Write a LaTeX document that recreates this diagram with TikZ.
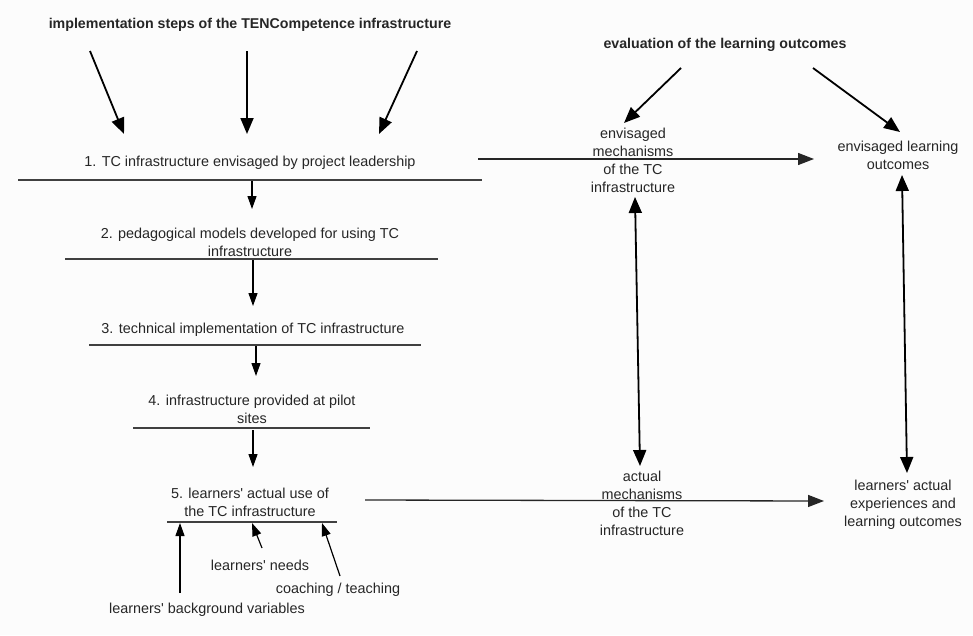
\documentclass[tikz,border=0pt]{standalone}
\usepackage{fontspec}
\setmainfont{Liberation Sans}[Ligatures=TeXOff]
\usetikzlibrary{arrows.meta}
\begin{document}
\begin{tikzpicture}[x=1pt,y=-1pt,
  txt/.style={inner sep=0pt, align=center, text=black!85, font=\fontsize{14.4}{18}\selectfont},
  ttl/.style={inner sep=0pt, align=center, text=black!85, font=\bfseries\fontsize{14.2}{18}\selectfont},
  bar/.style={draw=black!75, line width=1.3pt},
  big/.style={draw=black, line width=1.8pt, -{Triangle[length=16pt,width=13pt]}},
  bigboth/.style={draw=black, line width=1.8pt, {Triangle[length=16pt,width=13pt]}-{Triangle[length=16pt,width=13pt]}},
  small/.style={draw=black, line width=1.2pt, -{Triangle[length=13pt,width=9pt]}},
  horiz/.style={draw=black!85, line width=1.3pt, -{Triangle[length=16pt,width=12pt]}}
]
\fill[white!99!black] (0,0) rectangle (973,635);
\useasboundingbox (0,0) rectangle (973,635);

% titles
\node[ttl] (t1) at (250,25) {implementation steps of the TENCompetence infrastructure};
\node[ttl] (t2) at (725,45) {evaluation of the learning outcomes};

% steps
\node[txt] (s1) at (250,163) {1. TC infrastructure envisaged by project leadership};
\node[txt] (s2) at (250,242) {2. pedagogical models developed for using TC\\infrastructure};
\node[txt] (s3) at (253,330) {3. technical implementation of TC infrastructure};
\node[txt] (s4) at (252,409) {4. infrastructure provided at pilot\\sites};
\node[txt] (s5) at (250,502) {5. learners' actual use of\\the TC infrastructure};

% bars
\coordinate (b1l) at (18,180);  \coordinate (b1r) at (482,180);
\coordinate (b2l) at (65,259);  \coordinate (b2r) at (438,259);
\coordinate (b3l) at (89,345);  \coordinate (b3r) at (421,345);
\coordinate (b4l) at (133,428); \coordinate (b4r) at (370,428);
\coordinate (b5l) at (167,522); \coordinate (b5r) at (337,522);
\draw[bar] (b1l) -- (b1r);
\draw[bar] (b2l) -- (b2r);
\draw[bar] (b3l) -- (b3r);
\draw[bar] (b4l) -- (b4r);
\draw[bar] (b5l) -- (b5r);

% arrows from title 1
\coordinate (a1s) at (90,51);  \coordinate (a1e) at (124,134);
\coordinate (a2s) at (247,51); \coordinate (a2e) at (247,134);
\coordinate (a3s) at (417,51); \coordinate (a3e) at (379,134);
\draw[big] (a1s) -- (a1e);
\draw[big] (a2s) -- (a2e);
\draw[big] (a3s) -- (a3e);

% step arrows
\coordinate (d1s) at (252,181); \coordinate (d1e) at (252,209);
\coordinate (d2s) at (253,260); \coordinate (d2e) at (253,306);
\coordinate (d3s) at (256,346); \coordinate (d3e) at (256,376);
\coordinate (d4s) at (253,430); \coordinate (d4e) at (253,467);
\draw[small] (d1s) -- (d1e);
\draw[small] (d2s) -- (d2e);
\draw[small] (d3s) -- (d3e);
\draw[small] (d4s) -- (d4e);

% influences on step 5
\node[txt] (needs) at (260,565) {learners' needs};
\node[txt] (coach) at (338,590) {coaching / teaching};
\node[txt] (back) at (207,610) {learners' background variables};
\coordinate (i1s) at (180,593); \coordinate (i1e) at (180,523);
\coordinate (i2s) at (262,548); \coordinate (i2e) at (252,523);
\coordinate (i3s) at (340,576); \coordinate (i3e) at (322,523);
\draw[small] (i1s) -- (i1e);
\draw[small] (i2s) -- (i2e);
\draw[small] (i3s) -- (i3e);

% right side nodes
\node[txt] (em) at (633,160) {envisaged\\mechanisms\\of the TC\\infrastructure};
\node[txt] (elo) at (898,155) {envisaged learning\\outcomes};
\node[txt] (am) at (642,503) {actual\\mechanisms\\of the TC\\infrastructure};
\node[txt] (alo) at (903,505) {learners' actual\\experiences and\\learning outcomes};

% horizontal arrows
\coordinate (h1s) at (478,159); \coordinate (h1e) at (814,159);
\coordinate (h2s) at (365,500); \coordinate (h2e) at (824,501);
\draw[horiz] (h1s) -- (h1e);
\draw[horiz] (h2s) -- (h2e);

% arrows from title 2
\coordinate (e1s) at (681,68); \coordinate (e1e) at (624,123);
\coordinate (e2s) at (813,68); \coordinate (e2e) at (900,132);
\draw[big] (e1s) -- (e1e);
\draw[big] (e2s) -- (e2e);

% double arrows
\coordinate (v1t) at (635,197); \coordinate (v1b) at (640,466);
\coordinate (v2t) at (902,175); \coordinate (v2b) at (907,473);
\draw[bigboth] (v1t) -- (v1b);
\draw[bigboth] (v2t) -- (v2b);
\end{tikzpicture}
\end{document}
